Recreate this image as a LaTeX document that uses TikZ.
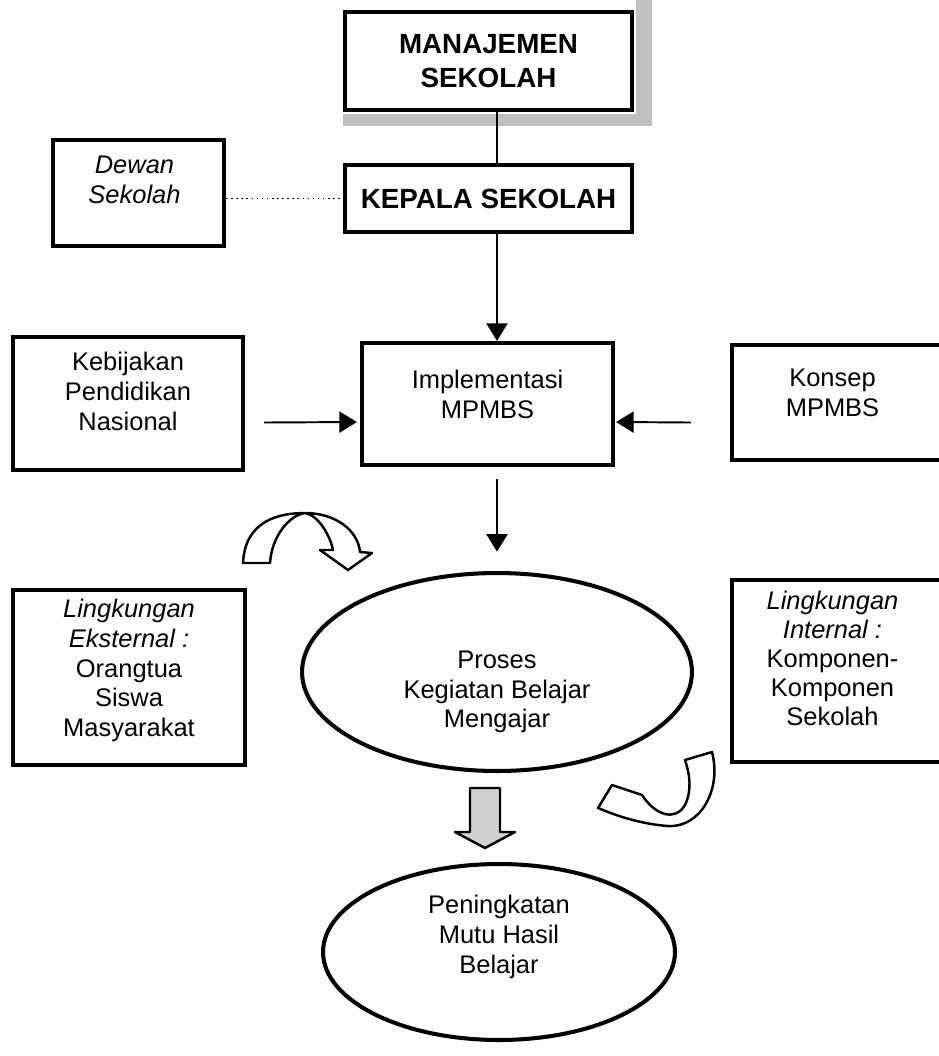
\documentclass[tikz,border=0pt]{standalone}
\usepackage{fontspec}
\setmainfont{Liberation Sans}
\usetikzlibrary{positioning,arrows.meta,calc,shapes.geometric}
\tikzset{
  >={Triangle[length=10pt,width=12pt]},
  box/.style={draw=black,line width=2.4pt,rectangle,inner sep=0pt},
  txt/.style={align=center,inner sep=1pt,font=\fontsize{14.5}{17}\selectfont},
  htxt/.style={txt,font=\fontsize{15.8}{19}\selectfont\bfseries},
  oval/.style={ellipse,draw=black,line width=2.3pt,inner sep=0pt},
  link/.style={line width=1.1pt},
  flow/.style={->,line width=1.1pt},
  dotlink/.style={dotted,line width=0.9pt},
  bigarrow/.style={draw=black,line width=1.4pt,fill=white,line join=round},
  shadowfill/.style={fill=black!25},
}

\begin{document}
\begin{tikzpicture}[x=0.02cm,y=-0.02cm]
  \useasboundingbox (0,0) rectangle (938,1056);
  % top of the chart
  \node[box,minimum width=5.74cm,minimum height=1.96cm] (mgmt) at (488.5,61) {};
  \node[htxt] (mgmttxt) at (mgmt) {MANAJEMEN\\SEKOLAH};
  \fill[shadowfill] ($(mgmt.north east)+(2,-10)$) rectangle ($(mgmt.south east)+(18,14)$);
  \fill[shadowfill] ($(mgmt.south west)+(0,2)$) rectangle ($(mgmt.south east)+(2,14)$);
  \node[box,minimum width=5.74cm,minimum height=1.34cm] (kepsek) at (488.5,198.5) {};
  \node[htxt] (kepsektxt) at (kepsek) {KEPALA SEKOLAH};
  \node[box,minimum width=3.42cm,minimum height=2.12cm] (dewan) at (138.5,193) {};
  \node[txt,font=\fontsize{14.5}{17}\selectfont\itshape] (dewantxt)
    at ($(dewan)+(-4,-13)$) {Dewan\\Sekolah};
  % inputs of the implementation
  \node[box,minimum width=4.6cm,minimum height=2.66cm] (keb) at (128,403.5) {};
  \node[txt] (kebtxt) at ($(keb)+(0,-12)$) {Kebijakan\\Pendidikan\\Nasional};
  \node[box,minimum width=5.02cm,minimum height=2.44cm] (impl) at (487.5,404) {};
  \node[txt] (impltxt) at ($(impl)+(0,-10)$) {Implementasi\\MPMBS};
  \node[box,minimum width=4.26cm,minimum height=2.3cm] (konsep) at (838.5,402.5) {};
  \node[txt] (konseptxt) at ($(konsep)+(-6,-10)$) {Konsep\\MPMBS};
  % learning process and its environment
  \node[oval,minimum width=7.8cm,minimum height=3.96cm] (proses) at (497,672) {};
  \node[txt] (prosestxt) at ($(proses)+(0,20)$) {Proses\\Kegiatan Belajar\\Mengajar};
  \node[box,minimum width=4.64cm,minimum height=3.5cm] (eks) at (129,677.5) {};
  \node[txt] (ekstxt) at ($(eks)+(0,-7)$)
    {\textit{Lingkungan}\\\textit{Eksternal :}\\Orangtua\\Siswa\\Masyarakat};
  \node[box,minimum width=4.26cm,minimum height=3.64cm] (intl) at (838.5,671) {};
  \node[txt,font=\fontsize{14.5}{16.5}\selectfont] (intltxt) at ($(intl)+(-6,-13)$)
    {\textit{Lingkungan}\\\textit{Internal :}\\Komponen-\\Komponen\\Sekolah};
  \node[oval,minimum width=7.04cm,minimum height=3.52cm] (hasil) at (499,952) {};
  \node[txt] (hasiltxt) at ($(hasil)+(0,-15)$) {Peningkatan\\Mutu Hasil\\Belajar};
  % connectors
  \draw[link] (mgmt.south -| proses) -- (kepsek.north -| proses);
  \draw[dotlink] (dewan.east |- kepsek.west) -- (kepsek.west);
  \draw[flow] (kepsek.south -| proses) -- (impl.north -| proses);
  \draw[flow] ($(keb.east)+(19,19)$) -- ($(impl.west)+(-3,18)$);
  \draw[flow] ($(konsep.west)+(-39,20)$) -- ($(impl.east)+(1,18)$);
  \draw[flow,shorten <=7pt,shorten >=11pt] (impl.south -| proses) -- (proses.north);
  % block arrows
  \draw[bigarrow,fill=black!18] (470,788) -- (500,788) -- (500,832) -- (515,832)
    -- (485,848) -- (455,832) -- (470,832) -- cycle;
  \draw[bigarrow] (243,563) .. controls (245,520) and (280,513) .. (305,513)
    .. controls (318,515) and (330,535) .. (333,550) -- (320,550) -- (348,570)
    -- (372,553) -- (360,552) .. controls (358,530) and (335,513) .. (305,513)
    .. controls (290,515) and (272,535) .. (270,563) -- cycle;
  \draw[bigarrow] (685,760) -- (712,752) .. controls (722,790) and (700,828) .. (668,826)
    .. controls (640,824) and (615,815) .. (603,810) -- (598,808) -- (612,785)
    -- (642,795) .. controls (655,815) and (675,822) .. (685,805)
    .. controls (692,790) and (690,775) .. (685,760) -- cycle;
\end{tikzpicture}
\end{document}
